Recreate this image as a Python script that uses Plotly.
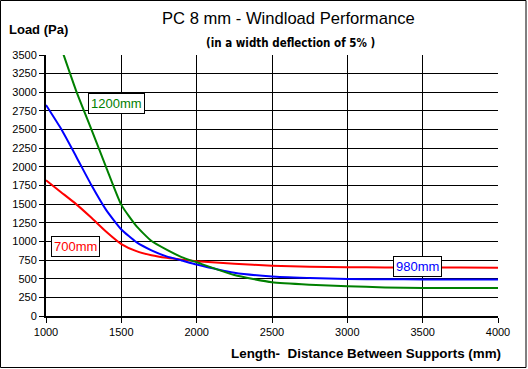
import plotly.graph_objects as go

# Data
length_mm = [1000, 1100, 1200, 1300, 1400, 1500, 1600, 1700, 1800, 1900, 2000,
             2250, 2500, 2750, 3000, 3250, 3500, 3750, 4000]
load_700 = [1820, 1660, 1500, 1320, 1130, 965, 870, 815, 780, 755, 735,
            700, 675, 660, 655, 652, 650, 649, 648]
load_980 = [2830, 2510, 2140, 1760, 1420, 1160, 990, 880, 800, 745, 690,
            580, 530, 510, 495, 492, 491, 490, 490]
load_1200 = [4180, 3600, 3020, 2510, 1990, 1490, 1205, 1005, 890, 790, 720,
             550, 452, 420, 400, 382, 376, 375, 375]

series_names = ["700mm", "980mm", "1200mm"]
series_values = [load_700, load_980, load_1200]
series_colors = ["#FF0000", "#0000FF", "#008000"]

x_ticks = [1000, 1500, 2000, 2500, 3000, 3500, 4000]
y_ticks = list(range(0, 3501, 250))

title_text = "PC 8 mm - Windload Performance"
subtitle_text = "(in a width deflection of 5% )"
y_title = "Load (Pa)"
x_title = "Length-\u00a0 Distance Between Supports (mm)"

W, H = 528, 369
L, R, T, B = 46, 498, 55, 316  # plot area pixel box


def px(x):
    return (x - L) / (R - L)


def py(y):
    return (B - y) / (B - T)


FONT = "Arial, 'Liberation Sans', sans-serif"
NARROW = "'Liberation Sans Narrow', 'Arial Narrow', 'DejaVu Sans Condensed', Arial, sans-serif"

fig = go.Figure()
for name, vals, col in zip(series_names, series_values, series_colors):
    fig.add_trace(go.Scatter(x=length_mm, y=vals, mode="lines", name=name,
                             line=dict(color=col, width=2, shape="spline", smoothing=0.5),
                             hoverinfo="x+y+name"))

fig.update_layout(
    width=W, height=H,
    margin=dict(l=L, r=W - R, t=T, b=H - B, pad=0),
    paper_bgcolor="white", plot_bgcolor="white",
    showlegend=False,
    font=dict(family=FONT, size=11, color="black"),
)
fig.update_xaxes(range=[1000, 4000], tickvals=x_ticks, ticktext=[str(v) for v in x_ticks],
                 showgrid=True, gridcolor="black", gridwidth=1,
                 showline=True, linecolor="black", linewidth=2,
                 ticks="outside", ticklen=5, tickwidth=1, tickcolor="black",
                 zeroline=False, tickfont=dict(family=FONT, size=11, color="black"))
fig.update_yaxes(range=[0, 3500], tickvals=y_ticks, ticktext=[str(v) for v in y_ticks],
                 showgrid=True, gridcolor="black", gridwidth=1,
                 showline=True, linecolor="black", linewidth=2,
                 ticks="outside", ticklen=5, tickwidth=1, tickcolor="black",
                 zeroline=False, tickfont=dict(family=FONT, size=11, color="black"))

# outer chart border
fig.add_shape(type="rect", xref="paper", yref="paper",
              x0=px(0.5), x1=px(526), y0=py(367.5), y1=py(0.5),
              line=dict(color="black", width=1), fillcolor="rgba(0,0,0,0)", layer="above")

annots = [
    dict(text=title_text, x=px(288), y=py(19), font=dict(family=FONT, size=16.6, color="black")),
    dict(text="<b>" + subtitle_text + "</b>", x=px(290), y=py(43),
         font=dict(family=NARROW, size=11.5, color="black")),
    dict(text="<b>" + y_title + "</b>", x=px(7), y=py(29), xanchor="left",
         font=dict(family=FONT, size=13, color="black")),
    dict(text="<b>" + x_title + "</b>", x=px(503), y=py(353), xanchor="right",
         font=dict(family=FONT, size=13.4, color="black")),
]
for a in annots:
    a.setdefault("xanchor", "center")
    fig.add_annotation(xref="paper", yref="paper", showarrow=False, yanchor="middle", **a)

# series labels in boxes
label_pos = {"1200mm": (116, 103), "700mm": (75, 246), "980mm": (417.5, 266)}
for name, col in zip(series_names, series_colors):
    lx, ly = label_pos[name]
    fig.add_annotation(xref="paper", yref="paper", x=px(lx), y=py(ly), text=name,
                       showarrow=False, xanchor="center", yanchor="middle",
                       bgcolor="white", bordercolor="black", borderwidth=1, borderpad=2,
                       font=dict(family=FONT, size=13, color=col))

fig.write_html("out.html", config={"displayModeBar": False},
               post_script="document.body.style.margin='0';document.body.style.overflow='hidden';")
